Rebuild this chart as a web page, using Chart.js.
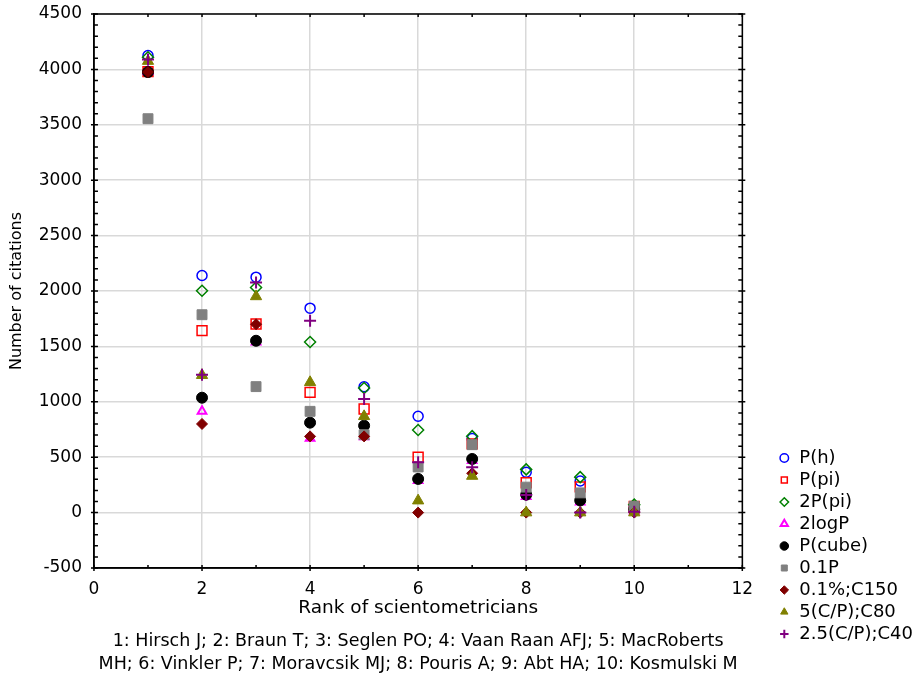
<!DOCTYPE html>
<html>
<head>
<meta charset="utf-8">
<title>Number of citations by rank</title>
<script src="https://cdn.jsdelivr.net/npm/chart.js@4.4.1/dist/chart.umd.min.js"></script>
<style>
  html, body { margin: 0; padding: 0; background: #fff; }
  #wrap { width: 918px; height: 682px; }
</style>
</head>
<body>
<div id="wrap"><canvas id="chart" width="918" height="682"></canvas></div>
<script>
// ---- data ----
const ranks = [1, 2, 3, 4, 5, 6, 7, 8, 9, 10];
const xTickValues = [0, 2, 4, 6, 8, 10, 12];
const yTickValues = [-500, 0, 500, 1000, 1500, 2000, 2500, 3000, 3500, 4000, 4500];

const seriesNames = ['P(h)', 'P(pi)', '2P(pi)', '2logP', 'P(cube)', '0.1P', '0.1%;C150', '5(C/P);C80', '2.5(C/P);C40'];
const pH      = [4125, 2140, 2125, 1845, 1135, 870, 668, 365, 285, 55];
const pPi     = [3980, 1642, 1702, 1085, 935, 499, 620, 270, 232, 55];
const twoPPi  = [4110, 2002, 2032, 1540, 1125, 745, 690, 390, 320, 72];
const twoLogP = [3980, 914, 1540, 670, 685, 290, 470, 145, 95, 15];
const pCube   = [3976, 1037, 1551, 812, 785, 304, 484, 162, 110, 30];
const p01     = [3555, 1786, 1137, 914, 703, 412, 613, 230, 178, 57];
const c150    = [3976, 800, 1700, 688, 688, 0, 355, 0, 0, 0];
const c80     = [4075, 1240, 1951, 1176, 869, 108, 330, 0, 0, 0];
const c40     = [4090, 1245, 2077, 1732, 1025, 454, 410, 160, 0, 8];

const caption = [
  '1: Hirsch J; 2: Braun T; 3: Seglen PO; 4: Vaan Raan AFJ; 5: MacRoberts',
  'MH; 6: Vinkler P; 7: Moravcsik MJ; 8: Pouris A; 9: Abt HA; 10: Kosmulski M'
];

// ---- marker styles ----
const NONE = 'rgba(0,0,0,0)';
const styles = [
  { pointStyle: 'circle',   radius: 5,   fill: NONE,      line: '#0000ff', width: 1.5 },
  { pointStyle: 'rect',     radius: 7,   fill: NONE,      line: '#ff0000', width: 1.5 },
  { pointStyle: 'rectRot',  radius: 5.5, fill: NONE,      line: '#008000', width: 1.5 },
  { pointStyle: 'triangle', radius: 5,   fill: NONE,      line: '#ff00ff', width: 2 },
  { pointStyle: 'circle',   radius: 5.5, fill: '#000000', line: '#000000', width: 1 },
  { pointStyle: 'rect',     radius: 7,   fill: '#808080', line: '#808080', width: 1 },
  { pointStyle: 'rectRot',  radius: 5.5, fill: '#800000', line: '#800000', width: 1 },
  { pointStyle: 'triangle', radius: 6.5, fill: '#808000', line: '#808000', width: 1 },
  { pointStyle: 'cross',    radius: 6,   fill: '#800080', line: '#800080', width: 2 }
];
const seriesValues = [pH, pPi, twoPPi, twoLogP, pCube, p01, c150, c80, c40];

const datasets = seriesValues.map((vals, i) => ({
  label: seriesNames[i],
  data: ranks.map((r, j) => ({ x: r, y: vals[j] })),
  pointStyle: styles[i].pointStyle,
  pointRadius: styles[i].radius,
  backgroundColor: styles[i].fill,
  borderColor: styles[i].line,
  borderWidth: styles[i].width,
  showLine: false,
  order: seriesValues.length - 1 - i   // later series drawn on top
}));

// ---- frame with inside tick marks (Statistica look) ----
const framePlugin = {
  id: 'frame',
  afterDatasetsDraw(chart) {
    const { ctx, chartArea: a, scales: { x, y } } = chart;
    ctx.save();
    ctx.strokeStyle = '#000';
    ctx.lineWidth = 1.5;
    ctx.beginPath();
    for (let v = y.min; v <= y.max; v += 100) {
      const py = y.getPixelForValue(v);
      const major = v % 500 === 0;
      ctx.moveTo(a.left - (major ? 3 : 0), py); ctx.lineTo(a.left + 4, py);
      ctx.moveTo(a.right - 4, py); ctx.lineTo(a.right + (major ? 3 : 0), py);
    }
    for (let v = x.min; v <= x.max; v += 1) {
      const px = x.getPixelForValue(v);
      ctx.moveTo(px, a.bottom + (v % 2 === 0 ? 3 : 0)); ctx.lineTo(px, a.bottom - 3);
      ctx.moveTo(px, a.top); ctx.lineTo(px, a.top + 3);
    }
    ctx.stroke();
    ctx.strokeRect(a.left, a.top, a.right - a.left, a.bottom - a.top);
    ctx.restore();
  }
};

Chart.defaults.font.family = "'DejaVu Sans', sans-serif";
Chart.defaults.color = '#000';

const HIDDEN = 'rgba(0,0,0,0)';

new Chart(document.getElementById('chart'), {
  type: 'scatter',
  data: { datasets },
  options: {
    responsive: false,
    animation: false,
    events: [],
    layout: { padding: { left: 4, top: 14, right: -5, bottom: 2.5 } },
    plugins: {
      legend: {
        position: 'right',
        align: 'start',
        title: { display: true, text: '', font: { size: 10 }, padding: { top: 0, bottom: 419 } },
        labels: {
          usePointStyle: true,
          boxWidth: 12,
          boxHeight: 6,
          padding: 4,
          font: { size: 18 },
          sort: (a, b) => a.datasetIndex - b.datasetIndex
        }
      },
      subtitle: {
        display: true,
        position: 'bottom',
        fullSize: false,
        text: caption,
        color: '#000',
        font: { size: 17.5, lineHeight: 1.314 },
        padding: { top: 7.6, bottom: 4 }
      },
      tooltip: { enabled: false }
    },
    scales: {
      x: {
        type: 'linear',
        min: 0, max: 12,
        afterBuildTicks: s => { s.ticks = xTickValues.map(v => ({ value: v })); },
        ticks: { padding: 0, font: { size: 17 }, callback: v => String(v) },
        grid: { color: '#d9d9d9', lineWidth: 1.5, drawTicks: true, tickLength: 11, tickColor: HIDDEN },
        border: { color: '#000', width: 1.5 },
        title: { display: true, text: 'Rank of scientometricians', font: { size: 18.5, lineHeight: 1 }, padding: { top: 0, bottom: 4 } }
      },
      y: {
        type: 'linear',
        min: -500, max: 4500,
        afterBuildTicks: s => { s.ticks = yTickValues.map(v => ({ value: v })); },
        ticks: { padding: 0, font: { size: 17 }, callback: v => String(v) },
        grid: { color: '#d9d9d9', lineWidth: 1.5, drawTicks: true, tickLength: 12, tickColor: HIDDEN },
        border: { color: '#000', width: 1.5 },
        title: { display: true, text: 'Number of citations', font: { size: 16 }, padding: { top: 3.5, bottom: 12 } }
      },
      yRight: {
        type: 'linear',
        position: 'right',
        min: -500, max: 4500,
        ticks: { display: false },
        grid: { display: false, drawTicks: false },
        border: { display: false },
        afterFit: s => { s.width = 32; }
      }
    }
  },
  plugins: [framePlugin]
});
</script>
</body>
</html>
